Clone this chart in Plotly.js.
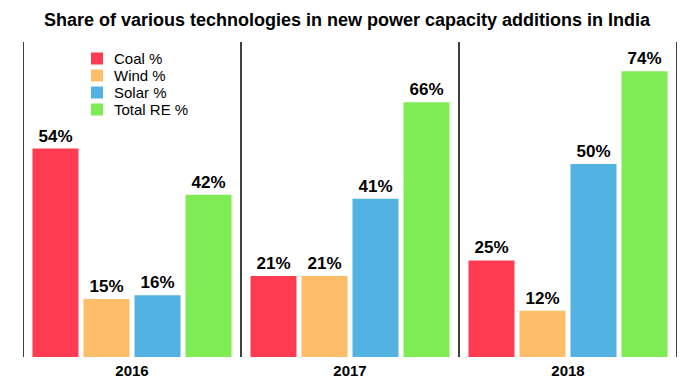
<!DOCTYPE html>
<html>
<head>
<meta charset="utf-8">
<script src="https://cdn.plot.ly/plotly-3.0.1.min.js"></script>
<style>html,body{margin:0;padding:0;background:#fff;}#chart{width:694px;height:390px;}</style>
</head>
<body>
<div id="chart"></div>
<script>
const years = ["2016", "2017", "2018"];
const coal = [54, 21, 25];
const wind = [15, 21, 12];
const solar = [16, 41, 50];
const totalRE = [42, 66, 74];
const seriesNames = ["Coal %", "Wind %", "Solar %", "Total RE %"];
const seriesColors = ["#FF3B51", "#FEBE69", "#52B3E3", "#80EC55"];
const seriesValues = [coal, wind, solar, totalRE];

const FONT = "Liberation Sans, Arial, Helvetica, sans-serif";
const W = 694, H = 390;
const M = {l: 23, r: 17, t: 42, b: 33};
const PW = W - M.l - M.r, PH = H - M.t - M.b;
const px = x => (x - M.l) / PW;
const py = y => 1 - (y - M.t) / PH;

const traces = seriesValues.map((vals, i) => ({
  type: "bar",
  name: seriesNames[i],
  x: years,
  y: vals,
  marker: {color: seriesColors[i]},
  text: vals.map(v => "<b>" + v + "%</b>"),
  textposition: "outside",
  textfont: {family: FONT, size: 17, color: "#000"},
  cliponaxis: false,
  hoverinfo: "none",
  showlegend: false
}));

const shapes = [-0.5, 0.5, 1.5, 2.5].map(x => ({
  type: "line", xref: "x", yref: "paper",
  x0: x, x1: x, y0: 0, y1: 1,
  line: {color: "#000", width: 1.5}
}));
const annotations = [];
seriesNames.forEach((name, i) => {
  const cy = 58.5 + i * 17;
  shapes.push({
    type: "rect", xref: "paper", yref: "paper",
    x0: px(91), x1: px(103), y0: py(cy + 6), y1: py(cy - 6),
    fillcolor: seriesColors[i], line: {width: 0}
  });
  annotations.push({
    xref: "paper", yref: "paper", x: px(112), y: py(cy),
    xanchor: "left", yanchor: "middle", showarrow: false,
    text: name, font: {family: FONT, size: 15, color: "#000"}
  });
});

const layout = {
  width: W, height: H,
  margin: M,
  paper_bgcolor: "#fff", plot_bgcolor: "#fff",
  title: {text: "<b>Share of various technologies in new power capacity additions in India</b>",
          font: {family: FONT, size: 18, color: "#000"}, x: 0.5, xanchor: "center", y: 1 - 20 / H, yanchor: "middle"},
  barmode: "group",
  bargap: 0.064,
  bargroupgap: 0.098,
  xaxis: {type: "category", range: [-0.5, 2.5], showgrid: false, zeroline: false, showline: false,
          ticks: "", ticklabelstandoff: 3, tickfont: {family: FONT, size: 15, color: "#000", weight: "bold"}},
  yaxis: {range: [0, 81.6], visible: false, showgrid: false, zeroline: false},
  shapes: shapes,
  annotations: annotations,
  showlegend: false
};

Plotly.newPlot("chart", traces, layout, {displayModeBar: false, staticPlot: true});
</script>
</body>
</html>
